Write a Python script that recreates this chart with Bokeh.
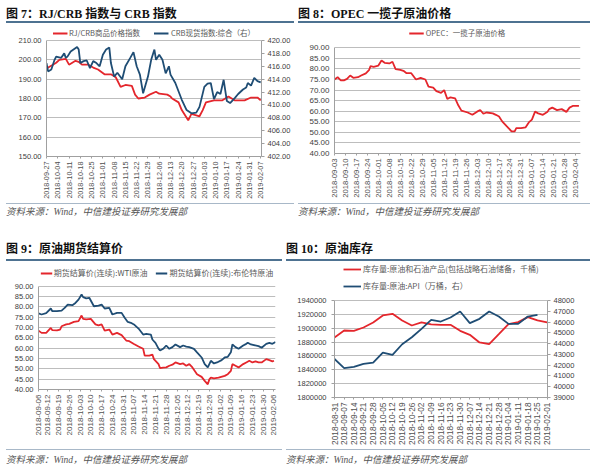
import math
import pandas as pd
from bokeh.plotting import figure
from bokeh.models import (Range1d, LinearAxis, FixedTicker, NumeralTickFormatter,
                          DatetimeTickFormatter, Legend, LegendItem, Div)
from bokeh.layouts import row, column
from bokeh.embed import file_html
from bokeh.resources import INLINE

# ---------------- data ----------------
# Fig 7: RJ/CRB index (left) and CRB spot index (right)
rj_dates = ["2018-09-27","2018-10-01","2018-10-03","2018-10-05","2018-10-09","2018-10-11","2018-10-15","2018-10-17",
            "2018-10-19","2018-10-23","2018-10-26","2018-10-29","2018-11-02","2018-11-06","2018-11-09","2018-11-12",
            "2018-11-15","2018-11-19","2018-11-21","2018-11-23","2018-11-27","2018-11-30","2018-12-04","2018-12-06",
            "2018-12-11","2018-12-13","2018-12-14","2018-12-18","2018-12-20","2018-12-24","2018-12-26","2018-12-31",
            "2019-01-02","2019-01-04","2019-01-09","2019-01-14","2019-01-18","2019-01-22","2019-01-28","2019-02-01",
            "2019-02-05","2019-02-07"]
rj_crb = [195.5,197.5,198.5,200.0,200.5,197.5,199.5,199.0,197.5,197.5,196.0,195.0,192.5,192.5,191.0,186.0,
          187.0,186.5,182.0,180.0,180.5,182.0,183.5,182.5,182.0,181.0,180.0,178.0,174.0,168.7,172.0,170.8,
          174.0,178.0,179.0,179.0,181.0,179.0,179.0,180.5,180.5,179.0]
crb_dates = ["2018-09-27","2018-09-28","2018-09-30","2018-10-02","2018-10-03","2018-10-06","2018-10-08","2018-10-09",
             "2018-10-10","2018-10-12","2018-10-16","2018-10-17","2018-10-18","2018-10-20","2018-10-22","2018-10-24",
             "2018-10-26","2018-10-28","2018-10-30","2018-11-01","2018-11-03","2018-11-05","2018-11-06","2018-11-08",
             "2018-11-10","2018-11-13","2018-11-15","2018-11-18","2018-11-20","2018-11-22","2018-11-24","2018-11-26",
             "2018-11-29","2018-12-01","2018-12-03","2018-12-04","2018-12-06","2018-12-08","2018-12-10","2018-12-12",
             "2018-12-13","2018-12-16","2018-12-20","2018-12-23","2018-12-26","2018-12-29","2018-12-31","2019-01-03",
             "2019-01-05","2019-01-07","2019-01-09","2019-01-11","2019-01-13","2019-01-15","2019-01-17","2019-01-19",
             "2019-01-22","2019-01-24","2019-01-27","2019-01-29","2019-01-30","2019-02-01","2019-02-03","2019-02-05",
             "2019-02-07"]
crb_spot = [416.5,415.2,415.5,417.0,417.5,417.3,418.0,417.3,417.5,418.3,419.0,418.6,416.5,416.8,416.9,415.7,
            416.8,416.5,416.0,417.8,418.6,418.9,416.5,414.4,415.0,414.0,416.0,417.3,418.2,416.0,414.7,411.8,
            414.4,417.0,418.6,417.0,417.8,417.0,414.9,416.0,414.7,413.4,410.8,409.2,408.7,408.8,409.7,412.8,
            413.3,413.4,410.9,412.0,411.7,413.9,410.6,410.3,411.1,411.7,412.4,412.7,413.4,413.0,414.2,413.7,
            413.5]
ticks7 = ["2018-09-27","2018-10-04","2018-10-11","2018-10-18","2018-10-25","2018-11-01","2018-11-08","2018-11-15",
          "2018-11-22","2018-11-29","2018-12-06","2018-12-13","2018-12-20","2018-12-27","2019-01-03","2019-01-10",
          "2019-01-17","2019-01-24","2019-01-31","2019-02-07"]
y7_left = [150, 160, 170, 180, 190, 200, 210]
y7_right = [402, 404, 406, 408, 410, 412, 414, 416, 418, 420]

# Fig 8: OPEC basket price
opec_dates = ["2018-09-03","2018-09-05","2018-09-07","2018-09-09","2018-09-11","2018-09-13","2018-09-15","2018-09-18",
              "2018-09-20","2018-09-23","2018-09-25","2018-09-26","2018-09-28","2018-10-01","2018-10-03","2018-10-05",
              "2018-10-08","2018-10-10","2018-10-12","2018-10-15","2018-10-17","2018-10-19","2018-10-22","2018-10-25",
              "2018-10-28","2018-10-31","2018-11-02","2018-11-05","2018-11-07","2018-11-10","2018-11-12","2018-11-14",
              "2018-11-16","2018-11-19","2018-11-21","2018-11-23","2018-11-27","2018-11-30","2018-12-03","2018-12-05",
              "2018-12-07","2018-12-09","2018-12-13","2018-12-15","2018-12-17","2018-12-19","2018-12-22","2018-12-25",
              "2018-12-27","2018-12-28","2018-12-31","2019-01-03","2019-01-05","2019-01-07","2019-01-09","2019-01-11",
              "2019-01-14","2019-01-17","2019-01-18","2019-01-20","2019-01-23","2019-01-26","2019-01-29","2019-01-31",
              "2019-02-02","2019-02-06"]
opec_basket = [75.0,76.1,74.6,74.6,75.3,76.9,75.8,76.1,76.9,77.9,79.4,81.3,81.0,81.6,84.0,82.9,
               82.6,83.4,79.9,79.6,79.1,78.0,78.0,75.0,75.8,75.0,71.6,71.2,69.5,68.7,70.0,65.8,
               66.6,66.1,62.8,60.3,59.4,58.3,59.8,60.6,58.8,59.4,59.0,58.3,57.5,55.2,52.8,50.5,
               50.5,52.0,52.0,52.4,54.7,56.0,59.8,59.0,58.3,59.8,61.0,61.7,60.5,61.0,59.7,61.7,
               62.5,62.5]
ticks8 = ["2018-09-03","2018-09-10","2018-09-17","2018-09-24","2018-10-01","2018-10-08","2018-10-15","2018-10-22",
          "2018-10-29","2018-11-05","2018-11-12","2018-11-19","2018-11-26","2018-12-03","2018-12-10","2018-12-17",
          "2018-12-24","2018-12-31","2019-01-07","2019-01-14","2019-01-21","2019-01-28","2019-02-04"]
y8 = [40, 45, 50, 55, 60, 65, 70, 75, 80, 85, 90]

# Fig 9: WTI and Brent futures settlement
wti_dates = ["2018-09-06","2018-09-08","2018-09-11","2018-09-14","2018-09-15","2018-09-18","2018-09-20","2018-09-21",
             "2018-09-24","2018-09-26","2018-09-29","2018-10-02","2018-10-04","2018-10-05","2018-10-07","2018-10-10",
             "2018-10-13","2018-10-15","2018-10-17","2018-10-19","2018-10-22","2018-10-24","2018-10-27","2018-10-30",
             "2018-11-02","2018-11-04","2018-11-07","2018-11-10","2018-11-13","2018-11-14","2018-11-17","2018-11-19",
             "2018-11-20","2018-11-23","2018-11-24","2018-11-26","2018-11-28","2018-11-30","2018-12-02","2018-12-04",
             "2018-12-07","2018-12-09","2018-12-11","2018-12-13","2018-12-15","2018-12-18","2018-12-21","2018-12-23",
             "2018-12-25","2018-12-26","2018-12-27","2018-12-29","2019-01-01","2019-01-05","2019-01-07","2019-01-09",
             "2019-01-10","2019-01-12","2019-01-14","2019-01-17","2019-01-19","2019-01-21","2019-01-23","2019-01-25",
             "2019-01-27","2019-01-29","2019-02-01","2019-02-03","2019-02-05","2019-02-06"]
wti = [68.5,67.4,67.4,69.8,68.7,68.6,69.0,70.6,71.5,71.8,72.7,73.1,75.8,74.2,73.9,74.2,
       71.5,71.0,71.5,68.5,69.0,66.6,67.4,66.3,63.7,63.4,62.0,60.8,59.7,56.4,56.4,56.9,
       54.7,52.3,50.3,50.6,50.7,51.5,52.0,53.1,52.3,52.6,51.5,52.3,50.7,47.4,46.1,44.2,
       42.5,44.9,45.7,45.4,45.7,46.6,47.4,49.0,52.3,51.5,50.7,52.3,53.1,53.9,53.1,53.6,
       53.1,53.1,54.7,54.2,53.6,53.9]
brent_dates = ["2018-09-06","2018-09-08","2018-09-11","2018-09-14","2018-09-15","2018-09-18","2018-09-21","2018-09-23",
               "2018-09-25","2018-09-28","2018-09-30","2018-10-02","2018-10-04","2018-10-05","2018-10-07","2018-10-09",
               "2018-10-12","2018-10-15","2018-10-17","2018-10-19","2018-10-22","2018-10-24","2018-10-27","2018-10-30",
               "2018-11-01","2018-11-03","2018-11-05","2018-11-07","2018-11-10","2018-11-13","2018-11-15","2018-11-18",
               "2018-11-19","2018-11-21","2018-11-23","2018-11-24","2018-11-26","2018-11-28","2018-11-30","2018-12-02",
               "2018-12-04","2018-12-07","2018-12-09","2018-12-11","2018-12-13","2018-12-16","2018-12-18","2018-12-21",
               "2018-12-23","2018-12-25","2018-12-27","2018-12-29","2018-12-31","2019-01-03","2019-01-05","2019-01-07",
               "2019-01-09","2019-01-10","2019-01-12","2019-01-14","2019-01-17","2019-01-19","2019-01-20","2019-01-22",
               "2019-01-24","2019-01-27","2019-01-29","2019-02-01","2019-02-03","2019-02-05","2019-02-07"]
brent = [76.8,76.3,77.0,79.2,77.9,77.9,78.2,79.5,81.1,80.8,81.9,83.5,86.0,84.7,84.1,84.4,
         80.3,80.6,81.1,79.2,79.5,76.3,77.1,77.1,74.7,72.7,72.3,71.5,69.5,66.6,66.9,66.6,
         64.2,62.6,59.8,58.9,59.7,61.3,59.7,60.5,61.8,60.5,61.3,60.8,60.5,59.7,58.0,55.5,
         52.3,50.7,53.9,52.6,53.1,54.2,55.5,55.8,58.0,61.8,60.5,59.7,61.3,62.1,62.6,61.8,
         61.5,61.0,60.2,62.1,62.6,62.1,63.0]
ticks9 = ["2018-09-06","2018-09-12","2018-09-19","2018-09-26","2018-10-03","2018-10-10","2018-10-17","2018-10-24",
          "2018-10-31","2018-11-07","2018-11-14","2018-11-21","2018-11-28","2018-12-05","2018-12-12","2018-12-19",
          "2018-12-26","2019-01-02","2019-01-09","2019-01-16","2019-01-23","2019-01-30","2019-02-06"]
y9 = [40, 45, 50, 55, 60, 65, 70, 75, 80, 85, 90]

# Fig 10: inventories (weekly)
inv_dates = ["2018-08-31","2018-09-07","2018-09-14","2018-09-21","2018-09-28","2018-10-05","2018-10-12","2018-10-19",
             "2018-10-26","2018-11-02","2018-11-09","2018-11-16","2018-11-23","2018-11-30","2018-12-07","2018-12-14",
             "2018-12-21","2018-12-28","2019-01-04","2019-01-11","2019-01-18","2019-01-25","2019-02-01"]
total_inv = [1886600,1896700,1896200,1901000,1908300,1918400,1920800,1911200,1903900,1908300,1905400,1904900,
             1904900,1896200,1890500,1879400,1877000,1891400,1905900,1908800,1916000,1911200,1908300]
api_inv = [42580,41720,41840,42120,42240,43170,42950,43940,44590,45370,46200,46050,46420,46980,45900,46300,
           46980,46510,45830,45830,46510,46670]
api_dates = inv_dates[:len(api_inv)]
y10_left = [1800000, 1820000, 1840000, 1860000, 1880000, 1900000, 1920000, 1940000]
y10_right = [39000, 40000, 41000, 42000, 43000, 44000, 45000, 46000, 47000, 48000]

SOURCE = "资料来源：Wind，中信建投证券研究发展部"

# ---------------- style ----------------
RED = "#E4262C"
BLUE = "#1F4D74"
GRID = "#BDBDBD"
AXIS = "#A0A0A0"
TICKTXT = "#404040"
LAT = "Liberation Sans"
CJK = "Noto Sans CJK SC"


def ms(s):
    return pd.Timestamp(s).value / 1e6


def headroom(lo, hi, data_px, frame_px):
    # extend the range so that [lo, hi] fills data_px of a frame that is frame_px tall
    return lo + (hi - lo) * frame_px / data_px


def make_fig(w, h, lb, rb, tb, bb, x0, x1, yticks, ytop, yfmt, xticks, date_fs, y_fs, ytick_out=0):
    y0, y1 = yticks[0], yticks[-1]
    p = figure(width=w, height=h, x_axis_type="datetime",
               x_range=Range1d(ms(x0), ms(x1)), y_range=Range1d(y0, ytop),
               output_backend="svg", toolbar_location=None,
               min_border_left=lb, min_border_right=rb, min_border_top=tb, min_border_bottom=bb)
    p.title.visible = False
    p.outline_line_color = None
    p.background_fill_color = "white"
    p.border_fill_color = "white"
    p.xgrid.visible = False
    p.ygrid.grid_line_color = GRID
    p.ygrid.grid_line_width = 1
    p.yaxis.ticker = FixedTicker(ticks=yticks)
    p.yaxis.bounds = (y0, y1)
    p.yaxis.formatter = NumeralTickFormatter(format=yfmt)
    p.yaxis.axis_line_color = AXIS
    p.yaxis.major_tick_line_color = AXIS
    p.yaxis.major_tick_out = ytick_out
    p.yaxis.major_tick_in = 0
    p.yaxis.minor_tick_line_color = None
    p.yaxis.major_label_text_font = LAT
    p.yaxis.major_label_text_font_size = y_fs
    p.yaxis.major_label_text_color = TICKTXT
    p.yaxis.major_label_standoff = 5
    p.xaxis.ticker = FixedTicker(ticks=[ms(t) for t in xticks])
    fmt = "%Y-%m-%d"
    p.xaxis.formatter = DatetimeTickFormatter(days=fmt, months=fmt, years=fmt, hours=fmt,
                                              hourmin=fmt, minutes=fmt, minsec=fmt, seconds=fmt)
    p.xaxis.major_label_orientation = math.pi / 2
    p.xaxis.axis_line_color = AXIS
    p.xaxis.major_tick_line_color = AXIS
    p.xaxis.major_tick_out = 2
    p.xaxis.major_tick_in = 0
    p.xaxis.minor_tick_line_color = None
    p.xaxis.major_label_text_font = LAT
    p.xaxis.major_label_text_font_size = date_fs
    p.xaxis.major_label_text_color = "#505050"
    p.xaxis.major_label_standoff = 3
    return p


def right_axis(p, name, ticks, top, fmt, fs):
    p.extra_y_ranges = {name: Range1d(ticks[0], top)}
    ax = LinearAxis(y_range_name=name, ticker=FixedTicker(ticks=ticks), bounds=(ticks[0], ticks[-1]),
                    formatter=NumeralTickFormatter(format=fmt))
    ax.axis_line_color = AXIS
    ax.major_tick_line_color = AXIS
    ax.major_tick_out = 3
    ax.major_tick_in = 0
    ax.minor_tick_line_color = None
    ax.major_label_text_font = LAT
    ax.major_label_text_font_size = fs
    ax.major_label_text_color = TICKTXT
    ax.major_label_standoff = 3
    p.add_layout(ax, "right")


def add_legend(p, items, loc, m, orient, fs, glyph_w, spacing):
    lg = Legend(items=items, location=loc, orientation=orient)
    lg.label_text_font = CJK
    lg.label_text_font_size = fs
    lg.label_text_color = "#595959"
    lg.glyph_width = glyph_w
    lg.glyph_height = 6
    lg.label_height = 8
    lg.label_standoff = 2
    lg.spacing = spacing
    lg.padding = 0
    lg.margin = m
    lg.border_line_color = None
    lg.background_fill_alpha = 0
    p.add_layout(lg)


SERIF_CJK = "'Liberation Serif', 'Noto Sans CJK SC', serif"


def heading(text, w, h, pad):
    html = (f'<div style="box-sizing:border-box;width:{w}px;height:{h}px;padding-top:{pad}px;'
            f'border-bottom:2px solid #4E7291;font-family:{SERIF_CJK};font-size:12px;'
            f'font-weight:bold;line-height:14px;color:#111111;white-space:nowrap;overflow:hidden;">'
            f'{text}</div>')
    return Div(text=html, width=w, height=h, margin=0)


def source(w, h, pad):
    html = (f'<div style="box-sizing:border-box;width:{w}px;height:{h}px;padding-top:{pad}px;'
            f'border-top:1px solid #A8B8C8;font-family:{SERIF_CJK};font-size:9.5px;'
            f'font-style:italic;line-height:14px;color:#555555;white-space:nowrap;overflow:hidden;">'
            f'{SOURCE}</div>')
    return Div(text=html, width=w, height=h, margin=0)


# ---------------- Fig 7 ----------------
p7 = make_fig(288, 180, 40, 33, 3, 47, "2018-09-27", "2019-02-07 12:00",
              y7_left, headroom(150, 210, 116, 130), "0.00", ticks7, "7.3px", "7.5px")
right_axis(p7, "r", y7_right, headroom(402, 420, 116, 130), "0.00", "7.5px")
r7a = p7.line(pd.to_datetime(rj_dates), rj_crb, line_color=RED, line_width=1.8)
r7b = p7.line(pd.to_datetime(crb_dates), crb_spot, line_color=BLUE, line_width=1.8, y_range_name="r")
add_legend(p7, [LegendItem(label="RJ/CRB商品价格指数", renderers=[r7a]),
                LegendItem(label="CRB现货指数:综合（右）", renderers=[r7b])],
           "top_center", 1, "horizontal", "7.5px", 15, 14)

# ---------------- Fig 8 ----------------
p8 = make_fig(292, 180, 36, 10, 3, 50, "2018-09-03", "2019-02-07",
              y8, headroom(40, 90, 105.7, 127), "0.00", ticks8, "7.7px", "8px")
r8 = p8.line(pd.to_datetime(opec_dates), opec_basket, line_color=RED, line_width=1.8)
add_legend(p8, [LegendItem(label="OPEC：一揽子原油价格", renderers=[r8])],
           "top_center", 1, "horizontal", "7.5px", 15, 10)

# ---------------- Fig 9 ----------------
p9 = make_fig(276, 188, 32, 7, 5, 60, "2018-09-06", "2019-02-07",
              y9, headroom(40, 90, 103.3, 123), "0.00", ticks9, "8px", "7.5px")
r9a = p9.line(pd.to_datetime(wti_dates), wti, line_color=RED, line_width=1.8)
r9b = p9.line(pd.to_datetime(brent_dates), brent, line_color=BLUE, line_width=1.8)
add_legend(p9, [LegendItem(label="期货结算价(连续):WTI原油", renderers=[r9a]),
                LegendItem(label="期货结算价(连续):布伦特原油", renderers=[r9b])],
           "top_center", 1, "horizontal", "8px", 12, 8)

# ---------------- Fig 10 ----------------
p10 = make_fig(304, 188, 48, 43, 3, 52, "2018-08-31", "2019-02-01 06:00",
               y10_left, headroom(1800000, 1940000, 97, 133), "0", inv_dates, "8.3px", "7.5px", ytick_out=3)
right_axis(p10, "r", y10_right, headroom(39000, 48000, 97, 133), "0", "7.5px")
r10a = p10.line(pd.to_datetime(inv_dates), total_inv, line_color=RED, line_width=1.8)
r10b = p10.line(pd.to_datetime(api_dates), api_inv, line_color=BLUE, line_width=1.8, y_range_name="r")
add_legend(p10, [LegendItem(label="库存量:原油和石油产品(包括战略石油储备，千桶)", renderers=[r10a]),
                 LegendItem(label="库存量:原油:API（万桶，右）", renderers=[r10b])],
           (9, 106), 0, "vertical", "8px", 18, 6)

# ---------------- layout ----------------
top = row(column(heading("图 7：RJ/CRB 指数与 CRB 指数", 288, 16, 0), p7, source(288, 32, 1)),
          column(heading("图 8：OPEC 一揽子原油价格", 292, 16, 0), p8, source(292, 32, 1)),
          spacing=4)
bottom = row(column(heading("图 9：原油期货结算价", 276, 26, 7), p9, source(276, 18, 3)),
             column(heading("图 10：原油库存", 304, 26, 7), p10, source(304, 18, 3)),
             spacing=4)
layout = column(top, bottom, margin=(7, 0, 0, 6))

with open("out.html", "w", encoding="utf-8") as f:
    f.write(file_html(layout, INLINE))
